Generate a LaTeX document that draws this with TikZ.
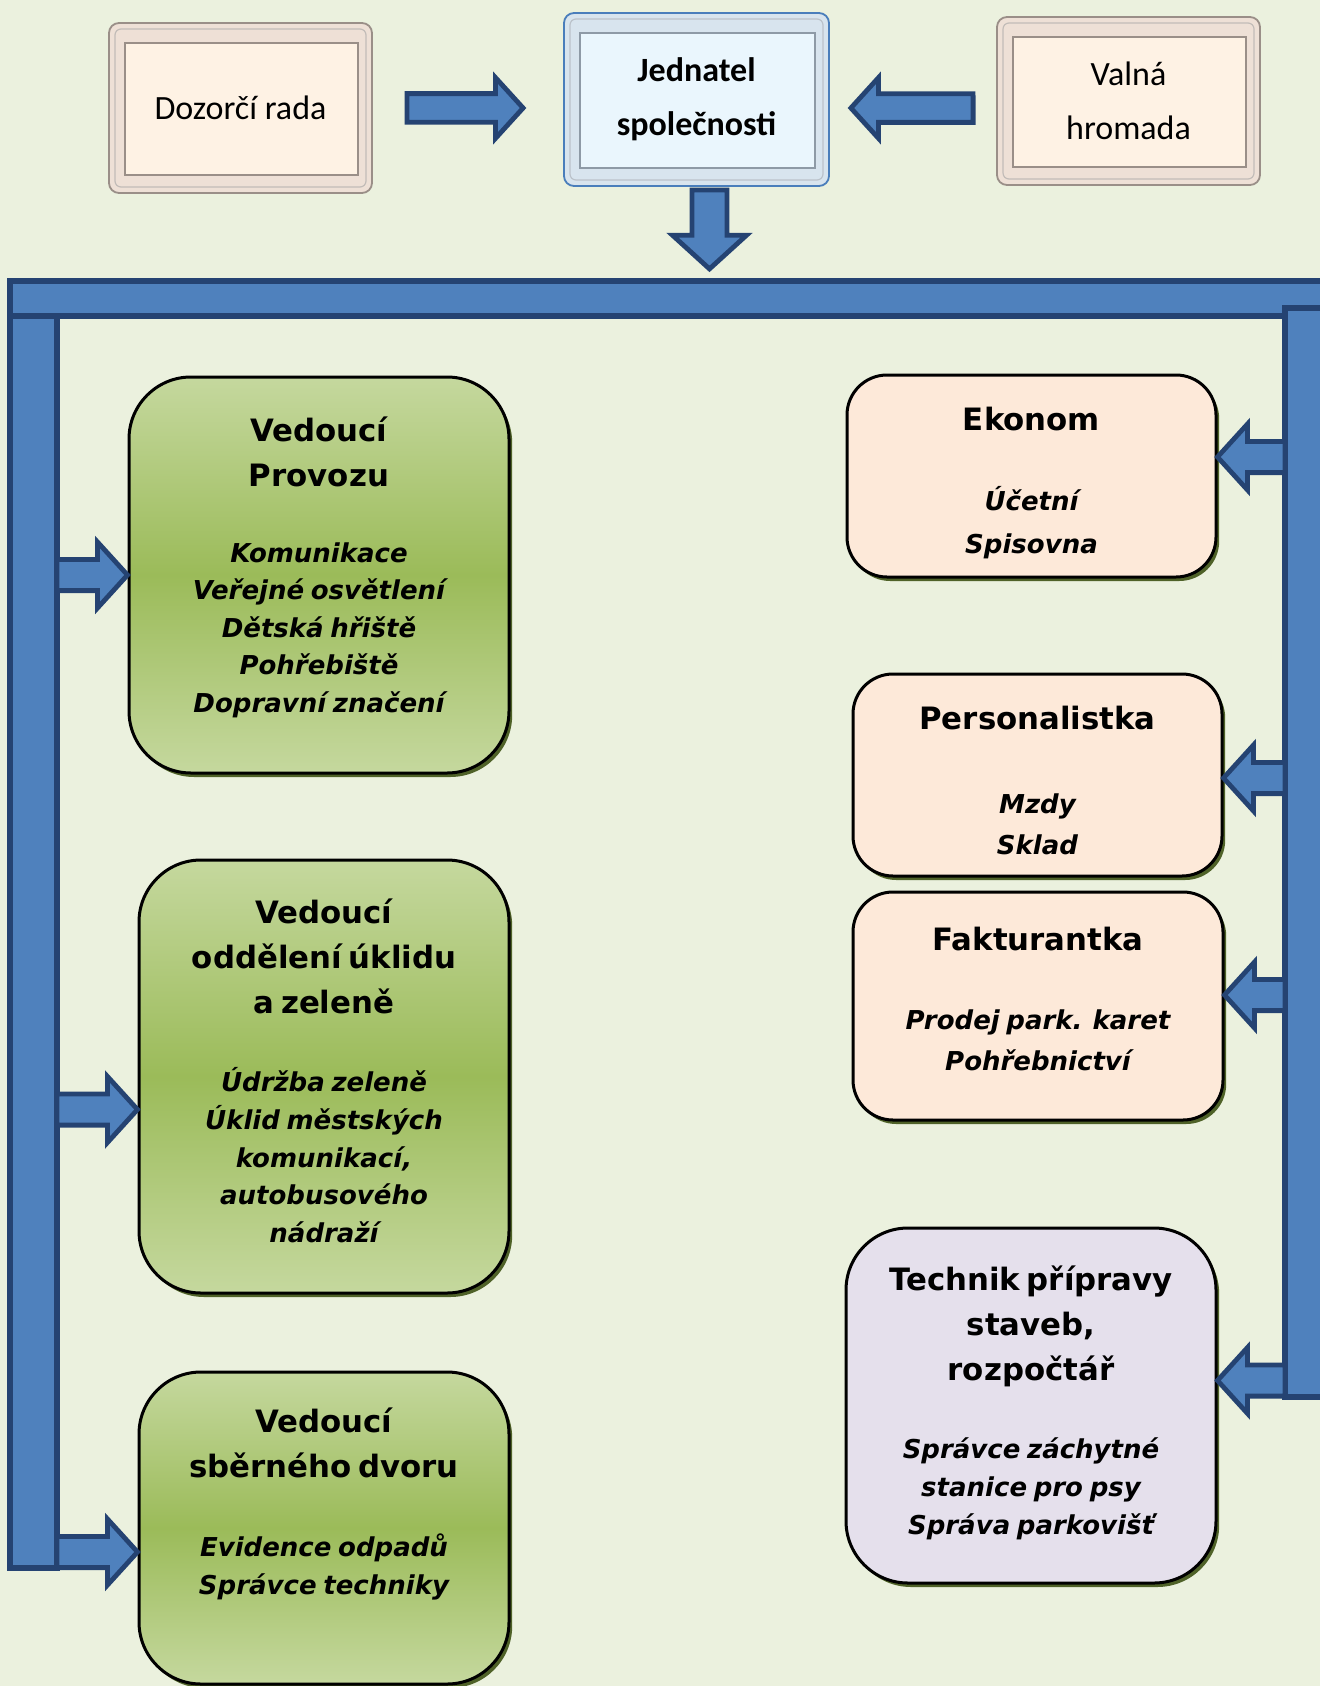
\documentclass[tikz,border=0pt]{standalone}
\usepackage{fontspec}
\setmainfont{Carlito}
\newfontfamily\boxfont{DejaVu Sans}
\usetikzlibrary{calc,shadows}

\definecolor{bg}{HTML}{EBF1DE}
\definecolor{barblue}{HTML}{4F81BD}
\definecolor{bardark}{HTML}{254372}
\definecolor{greenlt}{HTML}{C5D89E}
\definecolor{greendk}{HTML}{9BBB59}
\definecolor{shadowgreen}{HTML}{4F6228}
\definecolor{peach}{HTML}{FDE9D9}
\definecolor{lilac}{HTML}{E5E0EC}
\definecolor{peachface}{HTML}{FEF2E4}
\definecolor{peachband}{HTML}{EEE0D6}
\definecolor{peachline}{HTML}{9A8F88}
\definecolor{blueface}{HTML}{EAF6FD}
\definecolor{blueband}{HTML}{D8E4EE}
\definecolor{blueline}{HTML}{8E9AA6}
\definecolor{bluerim}{HTML}{4A7EBB}

\newcommand\hd{\boxfont\bfseries\fontsize{15.4pt}{22.5pt}\selectfont}
\newcommand\duty[1]{\boxfont\bfseries\itshape\fontsize{13pt}{#1}\selectfont}
\newcommand\topfont{\fontsize{17pt}{27pt}\selectfont}
% invisible struts to move the text block inside a box
\newcommand\lift[1]{\rule[-#1]{0pt}{#1}}
\newcommand\sink[1]{\rule{0pt}{#1}}

% block arrow from #2 to #3, #1 scales its width
\newcommand\fatarrow[3][1]{%
  \filldraw[blockarrow] let \p1=#2, \p2=#3,
    \n1={atan2((\y2)-(\y1),(\x2)-(\x1))}, \n2={veclen((\x2)-(\x1),(\y2)-(\y1))},
    \n3={7.8pt*#1}, \n4={16.5pt*#1}, \n5={15pt*#1},
    \n6={\n2-\n5}, \n7={\n4-\n3},
    \n8={atan2(\n4,\n5)}, \n9={veclen(\n4,\n5)} in
    (\p1) ++(\n1+90:\n3) -- ++(\n1:\n6) -- ++(\n1+90:\n7) -- (\p2)
    -- ++(\n1+180+\n8:\n9) -- ++(\n1+90:\n7) -- ++(\n1+180:\n6) -- cycle;}

\tikzset{
  bevel/.style args={#1/#2/#3/#4}{rectangle, rounded corners=5pt, draw=#4, line width=0.9pt,
    fill=#2, align=center, inner sep=0pt, font=\topfont,
    path picture={
      \draw[#3!60, line width=0.6pt, rounded corners=3pt]
        ([shift={(3pt,-3pt)}]path picture bounding box.north west) rectangle
        ([shift={(-3pt,3pt)}]path picture bounding box.south east);
      \draw[#3, line width=1.4pt, fill=#1, sharp corners]
        ([shift={(8pt,-10pt)}]path picture bounding box.north west) rectangle
        ([shift={(-7pt,9pt)}]path picture bounding box.south east);
    }},
  orgbox/.style={rectangle, draw=black, line width=1.5pt, align=center,
    inner sep=2pt, text width=172pt,
    drop shadow={shadow xshift=1.6pt, shadow yshift=-2pt, fill=shadowgreen, opacity=1}},
  greenbox/.style={orgbox, rounded corners=31pt, top color=greenlt, bottom color=greenlt,
    middle color=greendk},
  peachbox/.style={orgbox, rounded corners=20pt, fill=peach},
  lilacbox/.style={orgbox, rounded corners=31pt, fill=lilac},
  bus/.style={fill=barblue, draw=bardark, line width=2.6pt},
  blockarrow/.style={fill=barblue, draw=bardark, line width=2.4pt, line join=miter},
}

\begin{document}
\begin{tikzpicture}[x=0.5pt,y=-0.5pt]
\useasboundingbox (0,0) rectangle (1320,1686);
\clip (0,0) rectangle (1320,1686);
\fill[bg] (0,0) rectangle (1320,1686);

% top row
\node[bevel=peachface/peachband/peachline/peachline, minimum width=131.5pt, minimum height=85pt]
  (dozor) at (240.5,108) {Dozorčí rada};
\node[bevel=blueface/blueband/blueline/bluerim, font=\topfont\bfseries,
  minimum width=132.5pt, minimum height=86.5pt] (jedn) at (696.5,99.5) {Jednatel\\společnosti};
\node[bevel=peachface/peachband/peachline/peachline, minimum width=131.5pt, minimum height=84pt]
  (valna) at (1128.5,101) {Valná\\hromada};

% left column
\node[greenbox, minimum width=190pt, minimum height=198pt] (provoz) at (319,575)
  {\hd Vedoucí\\Provozu\par\vspace{19.2pt}\duty{18.8pt}Komunikace\\Veřejné osvětlení\\Dětská hřiště\\Pohřebiště\\Dopravní značení\lift{10.5pt}\par};
\node[greenbox, minimum width=185pt, minimum height=216.5pt] (oddel) at (324,1076.5)
  {\hd Vedoucí\\oddělení úklidu\\a zeleně\par\vspace{20.5pt}\duty{18.8pt}Údržba zeleně\\Úklid městských\\komunikací,\\autobusového\\nádraží\lift{6pt}\par};
\node[greenbox, minimum width=185pt, minimum height=156pt] (sber) at (324,1528)
  {\hd Vedoucí\\sběrného dvoru\par\vspace{20.7pt}\duty{18.8pt}Evidence odpadů\\Správce techniky\lift{26.6pt}\par};

% right column
\node[peachbox, minimum width=184.5pt, minimum height=101pt] (ekonom) at (1031.5,476)
  {\hd\sink{18.7pt}Ekonom\par\vspace{18.5pt}\duty{21.5pt}Účetní\\Spisovna\par};
\node[peachbox, minimum width=184.5pt, minimum height=101pt] (person) at (1037.5,775)
  {\hd\sink{17.2pt}Personalistka\par\vspace{21.5pt}\duty{20.5pt}Mzdy\\Sklad\par};
\node[peachbox, minimum width=185pt, minimum height=114pt] (faktur) at (1038,1006)
  {\hd Fakturantka\par\vspace{19pt}\duty{20.5pt}Prodej park. karet\\Pohřebnictví\lift{7.5pt}\par};
\node[lilacbox, minimum width=185pt, minimum height=177.5pt] (technik) at (1031,1405.5)
  {\hd Technik přípravy\\staveb,\\rozpočtář\par\vspace{20pt}\duty{19pt}Správce záchytné\\stanice pro psy\\Správa parkovišť\lift{5.7pt}\par};

% bus bars
\coordinate (lbar) at (57,1568);
\coordinate (rbar) at (1285,1397);
\filldraw[bus] (10,310) rectangle (lbar);
\filldraw[bus] (10,281) rectangle (1335,316);
\filldraw[bus] (rbar) rectangle (1335,308);

% arrows
\fatarrow[0.92]{($(dozor.east)+(17pt,0)$)}{($(jedn.west |- dozor.east)+(-20pt,0)$)}
\fatarrow[0.92]{($(valna.west |- dozor.east)+(-11.5pt,0)$)}{($(jedn.east |- dozor.east)+(10.5pt,0)$)}
\fatarrow[1.12]{($(jedn.south)+(6.5pt,-1.5pt)$)}{($(jedn.south)+(6.5pt,-41pt)$)}

\coordinate (od in) at ($(oddel.west)+(0,-16.5pt)$);
\coordinate (sb in) at ($(sber.west)+(0,-12pt)$);
\fatarrow{(lbar |- provoz.west)}{(provoz.west)}
\fatarrow{(lbar |- od in)}{(od in)}
\fatarrow{(lbar |- sb in)}{(sb in)}

\coordinate (ek in) at ($(ekonom.east)+(0,9.5pt)$);
\coordinate (pe in) at ($(person.east)+(0,-1.5pt)$);
\coordinate (fa in) at ($(faktur.east)+(0,5.5pt)$);
\coordinate (te in) at ($(technik.east)+(0,12.5pt)$);
\fatarrow{(rbar |- ek in)}{(ek in)}
\fatarrow{(rbar |- pe in)}{(pe in)}
\fatarrow{(rbar |- fa in)}{(fa in)}
\fatarrow{(rbar |- te in)}{(te in)}
\end{tikzpicture}
\end{document}
